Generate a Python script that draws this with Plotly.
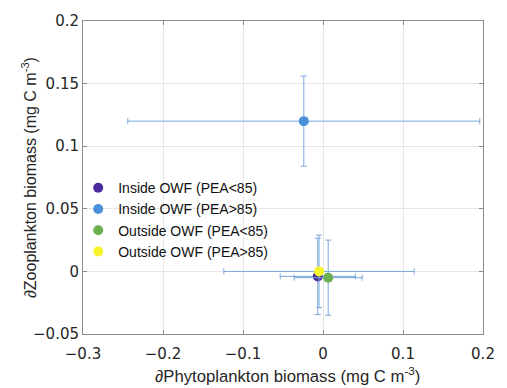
import plotly.graph_objects as go

names = ["Inside OWF (PEA<85)", "Inside OWF (PEA>85)", "Outside OWF (PEA<85)", "Outside OWF (PEA>85)"]
phyto = [-0.0065, -0.024, 0.0065, -0.005]
phyto_err = [0.047, 0.22, 0.0425, 0.119]
zoo = [-0.004, 0.120, -0.005, 0.0]
zoo_err = [0.0305, 0.036, 0.030, 0.029]
colors = ["#4b2a9c", "#4a90d9", "#6aaf50", "#f5f52a"]
err_color = "#7aa7dc"

x_ticks = [-0.3, -0.2, -0.1, 0, 0.1, 0.2]
x_tick_labels = ["\u22120.3", "\u22120.2", "\u22120.1", "0", "0.1", "0.2"]
y_ticks = [-0.05, 0, 0.05, 0.1, 0.15, 0.2]
y_tick_labels = ["\u22120.05", "0", "0.05", "0.1", "0.15", "0.2"]
x_title = "\u2202Phytoplankton biomass (mg C m<sup>-3</sup>)"
y_title = "\u2202Zooplankton biomass (mg C m<sup>-3</sup>)"

fig = go.Figure()
for i in range(len(names)):
    fig.add_trace(go.Scatter(
        x=[phyto[i]], y=[zoo[i]], mode="markers", name=names[i],
        marker=dict(color=colors[i], size=10, line=dict(width=0)),
        error_x=dict(type="data", array=[phyto_err[i]], color=err_color, thickness=1, width=3),
        error_y=dict(type="data", array=[zoo_err[i]], color=err_color, thickness=1, width=3),
    ))

axis_common = dict(
    showgrid=True, gridcolor="#e6e6e6", gridwidth=1,
    showline=True, linecolor="#8c8c8c", linewidth=1, mirror="ticks",
    ticks="inside", ticklen=4, tickcolor="#8c8c8c",
    zeroline=False,
    tickfont=dict(family="DejaVu Sans", size=15, color="#262626"),
)

fig.update_layout(
    width=507, height=388,
    margin=dict(l=83, r=21, t=18, b=54),
    plot_bgcolor="white", paper_bgcolor="white",
    showlegend=True,
    legend=dict(x=-0.012, y=0.517, xanchor="left", yanchor="top",
                bgcolor="rgba(255,255,255,0)", borderwidth=0,
                font=dict(family="Liberation Sans", size=14, color="#111111"),
                tracegroupgap=0, itemwidth=30),
    xaxis=dict(range=[-0.3, 0.2], tickvals=x_ticks, ticktext=x_tick_labels,
               ticklabelstandoff=6, **axis_common),
    yaxis=dict(range=[-0.05, 0.2], tickvals=y_ticks, ticktext=y_tick_labels,
               **axis_common),
    annotations=[
        dict(text=x_title, xref="paper", yref="paper", x=0.51, y=-0.132,
             xanchor="center", yanchor="middle", showarrow=False,
             font=dict(family="Liberation Sans", size=16.7, color="#262626")),
        dict(text=y_title, xref="paper", yref="paper", x=-0.136, y=0.5,
             xanchor="center", yanchor="middle", textangle=-90, showarrow=False,
             font=dict(family="Liberation Sans", size=16, color="#262626")),
    ],
)

fig.write_html("out.html", config={"displayModeBar": False},
               post_script="document.body.style.margin='0';document.body.style.overflow='hidden';")
